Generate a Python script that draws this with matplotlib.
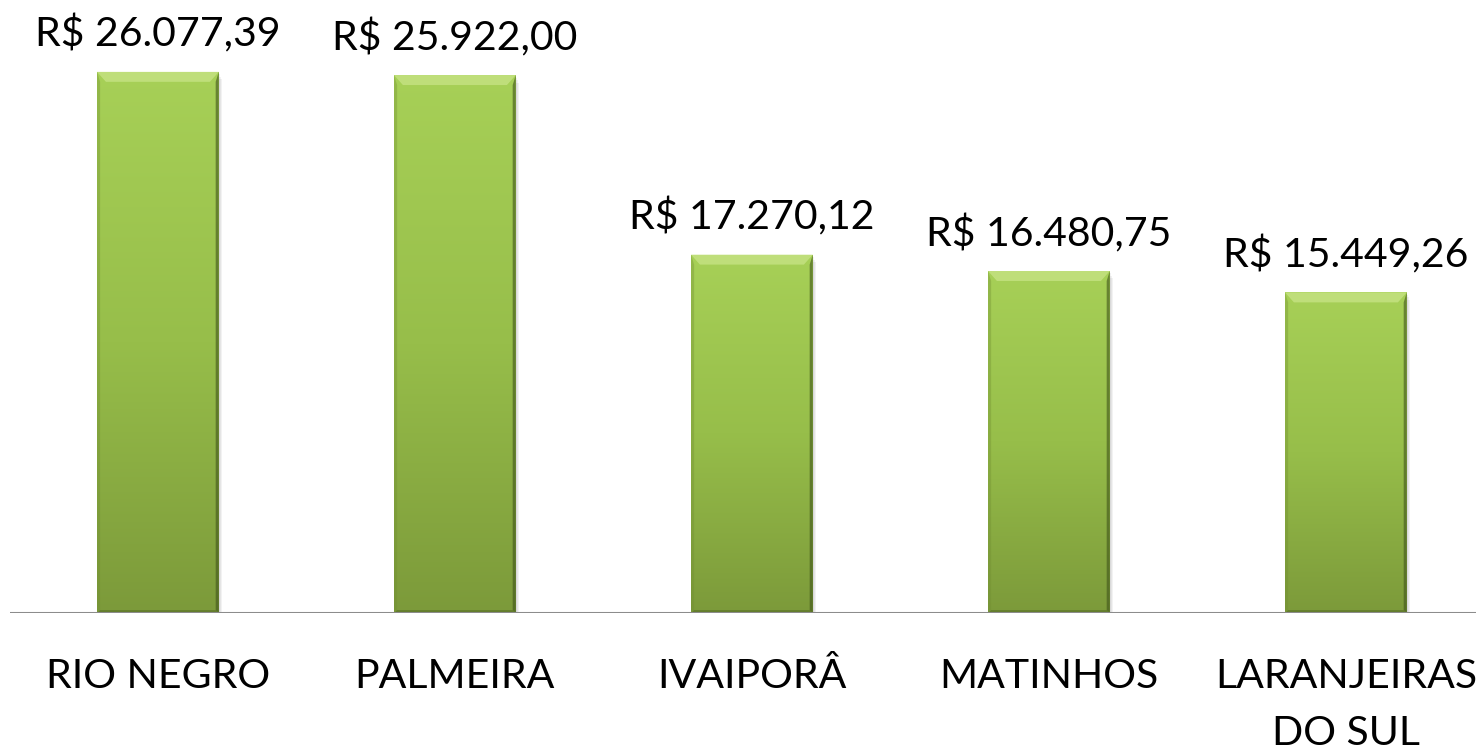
import matplotlib
matplotlib.use("Agg")
import matplotlib.pyplot as plt
import numpy as np
from matplotlib.patches import Rectangle, Polygon
from matplotlib.colors import LinearSegmentedColormap
from matplotlib.transforms import blended_transform_factory, offset_copy

categories = ["RIO NEGRO", "PALMEIRA", "IVAIPORÂ", "MATINHOS", "LARANJEIRAS\nDO SUL"]
values = [26077.39, 25922.00, 17270.12, 16480.75, 15449.26]
labels = ["R$ 26.077,39", "R$ 25.922,00", "R$ 17.270,12", "R$ 16.480,75", "R$ 15.449,26"]

plt.rcParams['font.family'] = ['Lato', 'DejaVu Sans']

fig = plt.figure(figsize=(14.76, 7.52), dpi=100)
ax = fig.add_axes([10/1476, 1 - 613/752, 1 - 10/1476, 613/752])

n = len(categories)
x = np.arange(n)
width = 0.41
ax.set_xlim(-0.498, 4.438)
ax.set_ylim(0, 29540)

cmap = LinearSegmentedColormap.from_list("g", ["#7c9a3a", "#97be4a", "#a7d057"])
grad = np.linspace(0, 1, 256).reshape(-1, 1)

FS = 29.5
for xi, v, lab in zip(x, values, labels):
    l, r = xi - width / 2, xi + width / 2
    # soft shadow
    for k, a in enumerate([0.05, 0.05, 0.05]):
        sh = Rectangle((l + 0.004 * (k + 1), -120 * (k + 1)), width, v, facecolor="#000000",
                       alpha=a, edgecolor="none", zorder=1)
        ax.add_patch(sh)
    rect = Rectangle((l, 0), width, v, facecolor="none", edgecolor="none", zorder=2)
    ax.add_patch(rect)
    im = ax.imshow(grad, extent=[l, r, 0, v], origin="lower", cmap=cmap,
                   aspect="auto", zorder=2, interpolation="bilinear")
    im.set_clip_path(rect)
    # bevel
    bx = 0.03
    by = 480
    top = Polygon([[l, v], [r, v], [r - bx, v - by], [l + bx, v - by]],
                  closed=True, facecolor="#c6e384", edgecolor="none", alpha=0.8, zorder=3)
    ax.add_patch(top)
    right = Polygon([[r, v], [r, 0], [r - bx * 0.35, 140], [r - bx * 0.35, v - by]],
                    closed=True, facecolor="#3f531a", edgecolor="none", alpha=0.6, zorder=3)
    ax.add_patch(right)
    left = Polygon([[l, v], [l, 0], [l + bx * 0.35, 140], [l + bx * 0.35, v - by]],
                   closed=True, facecolor="#6f8c30", edgecolor="none", alpha=0.35, zorder=3)
    ax.add_patch(left)
    bot = Polygon([[l, 0], [r, 0], [r - bx * 0.35, 140], [l + bx * 0.35, 140]],
                  closed=True, facecolor="#4c6220", edgecolor="none", alpha=0.5, zorder=3)
    ax.add_patch(bot)
    ax.annotate(lab, (xi, v), xytext=(0, 18), textcoords="offset points",
                ha="center", va="baseline", fontsize=FS, color="black", zorder=5,
                annotation_clip=False)

ax.axhline(0, color="#8c8c8c", linewidth=2.2, zorder=4)
for s in ax.spines.values():
    s.set_visible(False)
ax.set_yticks([])
ax.set_xticks([])

trans = blended_transform_factory(ax.transData, ax.transAxes)
for xi, cat in zip(x, categories):
    for j, line in enumerate(cat.split("\n")):
        t = offset_copy(trans, fig=fig, x=0, y=-(54 + 41 * j), units="points")
        ax.text(xi, 0, line, transform=t, ha="center", va="baseline",
                fontsize=FS, color="black", clip_on=False)

fig.savefig("out.png", dpi=100)
